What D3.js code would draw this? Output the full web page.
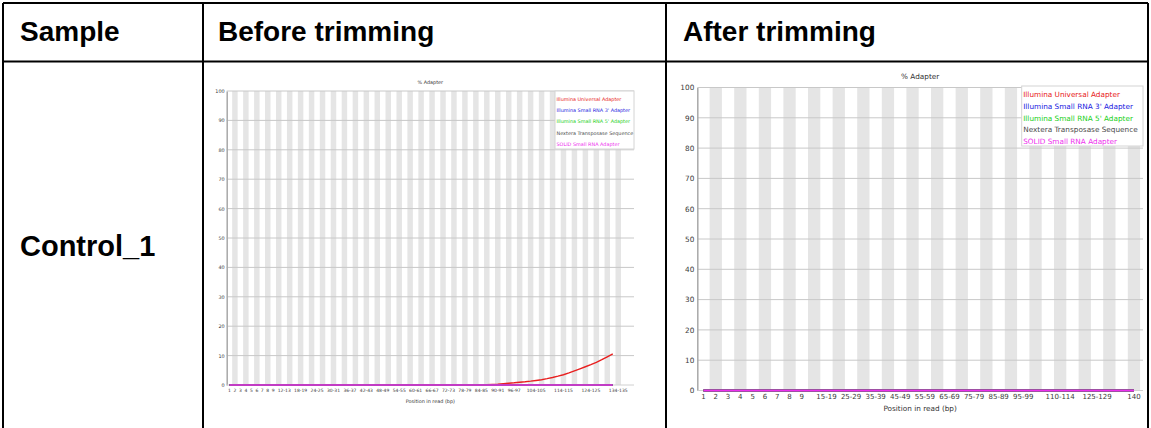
<!DOCTYPE html>
<html>
<head>
<meta charset="utf-8">
<script src="https://cdn.jsdelivr.net/npm/d3@7"></script>
<style>
  body { margin: 0; background: #fff; }
  svg { display: block; }
</style>
</head>
<body>
<div id="chart"></div>
<script>
const width = 1151;
const height = 428;

// table text
const tableHeaders = ["Sample", "Before trimming", "After trimming"];
const sampleNames = ["Control_1"];

// adapter series
const seriesNames = [
  "Illumina Universal Adapter",
  "Illumina Small RNA 3' Adapter",
  "Illumina Small RNA 5' Adapter",
  "Nextera Transposase Sequence",
  "SOLID Small RNA Adapter"
];
const seriesColors = ["#e82020", "#2020e0", "#20d020", "#4a4a4a", "#ee30ee"];
const yTicks = [0, 10, 20, 30, 40, 50, 60, 70, 80, 90, 100];

// before trimming
const beforeCategories = [
  "1", "2", "3", "4", "5", "6", "7", "8", "9",
  "10-11", "12-13", "14-15", "16-17", "18-19", "20-21", "22-23", "24-25", "26-27", "28-29",
  "30-31", "32-33", "34-35", "36-37", "38-39", "40-41", "42-43", "44-45", "46-47", "48-49",
  "50-51", "52-53", "54-55", "56-57", "58-59", "60-61", "62-63", "64-65", "66-67", "68-69",
  "70-71", "72-73", "74-75", "76-77", "78-79", "80-81", "82-83", "84-85", "86-87", "88-89",
  "90-91", "92-93", "94-95", "96-97", "98-99", "100-101", "102-103", "104-105", "106-107", "108-109",
  "110-111", "112-113", "114-115", "116-117", "118-119", "120-121", "122-123", "124-125", "126-127", "128-129",
  "130-131", "132-133", "134-135"
];
const beforeTickLabels = [
  "1", "2", "3", "4", "5", "6", "7", "8", "9", "12-13", "18-19", "24-25", "30-31", "36-37",
  "42-43", "48-49", "54-55", "60-61", "66-67", "72-73", "78-79", "84-85", "90-91", "96-97",
  "104-105", "114-115", "124-125", "134-135"
];
const beforeUniversal = [
  0, 0, 0, 0, 0, 0, 0, 0, 0,
  0, 0, 0, 0, 0, 0, 0, 0, 0, 0,
  0, 0, 0, 0, 0, 0, 0, 0, 0, 0,
  0, 0, 0, 0, 0, 0, 0, 0, 0, 0,
  0, 0, 0, 0, 0, 0.02, 0.05, 0.08, 0.12, 0.2,
  0.3, 0.45, 0.6, 0.75, 0.95, 1.1, 1.3, 1.55, 1.8, 2.15,
  2.55, 3.0, 3.5, 4.1, 4.8, 5.5, 6.2, 6.9, 7.7, 8.6,
  9.6, 10.6
];
const beforeZero = [
  0, 0, 0, 0, 0, 0, 0, 0, 0,
  0, 0, 0, 0, 0, 0, 0, 0, 0, 0,
  0, 0, 0, 0, 0, 0, 0, 0, 0, 0,
  0, 0, 0, 0, 0, 0, 0, 0, 0, 0,
  0, 0, 0, 0, 0, 0, 0, 0, 0, 0,
  0, 0, 0, 0, 0, 0, 0, 0, 0, 0,
  0, 0, 0, 0, 0, 0, 0, 0, 0, 0,
  0, 0
];

// after trimming
const afterCategories = [
  "1", "2", "3", "4", "5", "6", "7", "8", "9",
  "10-14", "15-19", "20-24", "25-29", "30-34", "35-39", "40-44", "45-49", "50-54", "55-59",
  "60-64", "65-69", "70-74", "75-79", "80-84", "85-89", "90-94", "95-99", "100-104", "105-109",
  "110-114", "115-119", "120-124", "125-129", "130-134", "135-139", "140"
];
const afterTickLabels = [
  "1", "2", "3", "4", "5", "6", "7", "8", "9", "15-19", "25-29", "35-39", "45-49",
  "55-59", "65-69", "75-79", "85-89", "95-99", "110-114", "125-129", "140"
];
const afterZero = [
  0, 0, 0, 0, 0, 0, 0, 0, 0,
  0, 0, 0, 0, 0, 0, 0, 0, 0, 0,
  0, 0, 0, 0, 0, 0, 0, 0, 0, 0,
  0, 0, 0, 0, 0, 0, 0
];

const svg = d3.select("#chart").append("svg")
  .attr("width", width)
  .attr("height", height)
  .attr("viewBox", [0, 0, width, height]);

svg.append("rect").attr("width", width).attr("height", height).attr("fill", "#fff");

function adapterChart(o) {
  const n = o.categories.length;
  const x = d3.scaleBand()
    .domain(o.categories)
    .range([o.left, o.left + n * o.step]);
  const y = d3.scaleLinear()
    .domain([0, 100])
    .range([o.bottom, o.top]);
  const cx = d => x(d) + x.bandwidth() / 2;

  const g = svg.append("g")
    .attr("font-family", "'DejaVu Sans', sans-serif");

  g.append("g")
    .selectAll("rect")
    .data(o.categories.filter((d, i) => i % 2 === 1))
    .join("rect")
    .attr("x", d => x(d))
    .attr("y", o.top)
    .attr("width", x.bandwidth())
    .attr("height", o.bottom - o.top)
    .attr("fill", "#e5e5e5");

  g.append("g")
    .selectAll("line")
    .data(yTicks.slice(1))
    .join("line")
    .attr("x1", o.left)
    .attr("x2", o.right)
    .attr("y1", d => y(d))
    .attr("y2", d => y(d))
    .attr("stroke", "#c8c8c8")
    .attr("stroke-width", 1);

  const yAxis = g.append("g")
    .attr("transform", `translate(${o.left},0)`)
    .call(d3.axisLeft(y).tickValues(yTicks).tickSize(0).tickPadding(o.yPad));
  yAxis.attr("font-family", null).attr("font-size", o.fs);
  yAxis.select(".domain").attr("stroke", "#a8a8a8").attr("stroke-width", 1.5);
  yAxis.selectAll("text").attr("fill", "#3a3a3a");

  const xAxis = g.append("g")
    .attr("transform", `translate(0,${o.bottom})`)
    .call(d3.axisBottom(x).tickValues(o.tickLabels).tickSize(0).tickPadding(o.xPad));
  xAxis.attr("font-family", null).attr("font-size", o.xfs);
  xAxis.select(".domain").attr("d", `M${o.left},0H${o.right}`).attr("stroke", "#d0d0d0");
  xAxis.selectAll("text").attr("fill", "#3a3a3a");

  const line = d3.line()
    .x((d, i) => cx(o.categories[i]))
    .y(d => y(d));

  g.append("g")
    .attr("fill", "none")
    .attr("stroke-width", o.lw)
    .selectAll("path")
    .data(o.series)
    .join("path")
    .attr("stroke", (d, i) => seriesColors[i])
    .attr("d", d => line(d));

  g.append("text")
    .attr("x", (o.left + o.right) / 2)
    .attr("y", o.titleY)
    .attr("text-anchor", "middle")
    .attr("dominant-baseline", "middle")
    .attr("font-size", o.fs)
    .attr("fill", "#333")
    .text("% Adapter");

  g.append("text")
    .attr("x", (o.left + o.right) / 2)
    .attr("y", o.xTitleY)
    .attr("text-anchor", "middle")
    .attr("dominant-baseline", "middle")
    .attr("font-size", o.fs)
    .attr("fill", "#333")
    .text("Position in read (bp)");

  const lg = g.append("g");
  lg.append("rect")
    .attr("x", o.legend[0])
    .attr("y", o.legend[1])
    .attr("width", o.right - o.legend[0])
    .attr("height", o.legend[2])
    .attr("fill", "#fff")
    .attr("stroke", "#d4d4d4");
  lg.selectAll("text")
    .data(seriesNames)
    .join("text")
    .attr("x", o.legend[0] + 1.5)
    .attr("y", (d, i) => o.legend[3] + i * o.legend[4])
    .attr("dominant-baseline", "middle")
    .attr("font-size", o.fs)
    .attr("fill", (d, i) => seriesColors[i])
    .text(d => d);
}

adapterChart({
  categories: beforeCategories,
  tickLabels: beforeTickLabels,
  series: [beforeUniversal, beforeZero, beforeZero, beforeZero, beforeZero],
  left: 226.7, step: 5.476, right: 634, top: 91, bottom: 385,
  fs: 4.9, xfs: 4.5, yPad: 2, xPad: 4, lw: 1.4,
  titleY: 83, xTitleY: 402,
  legend: [555, 91, 58, 99.5, 11.3]
});

adapterChart({
  categories: afterCategories,
  tickLabels: afterTickLabels,
  series: [afterZero, afterZero, afterZero, afterZero, afterZero],
  left: 697.3, step: 12.3, right: 1143, top: 87.5, bottom: 390.5,
  fs: 7.3, xfs: 7, yPad: 3, xPad: 4, lw: 2,
  titleY: 77.5, xTitleY: 409,
  legend: [1021.7, 86, 60, 95.5, 11.6]
});

// table
const table = svg.append("g")
  .attr("stroke", "#000")
  .attr("stroke-width", 2);
[[3, 3, 3, height], [203, 3, 203, height], [666, 3, 666, height], [1148, 3, 1148, height],
 [3, 3, 1148, 3], [3, 61.5, 1148, 61.5]].forEach(l => {
  table.append("line")
    .attr("x1", l[0]).attr("y1", l[1]).attr("x2", l[2]).attr("y2", l[3]);
});

const colX = [20, 218, 683];
svg.append("g")
  .attr("font-family", "'Liberation Sans', Arial, sans-serif")
  .attr("font-weight", "bold")
  .attr("font-size", 28)
  .selectAll("text")
  .data(tableHeaders)
  .join("text")
  .attr("x", (d, i) => colX[i])
  .attr("y", 41)
  .text(d => d);

svg.append("g")
  .attr("font-family", "'Liberation Sans', Arial, sans-serif")
  .attr("font-weight", "bold")
  .attr("font-size", 29)
  .selectAll("text")
  .data(sampleNames)
  .join("text")
  .attr("x", 20)
  .attr("y", 256)
  .text(d => d);
</script>
</body>
</html>
